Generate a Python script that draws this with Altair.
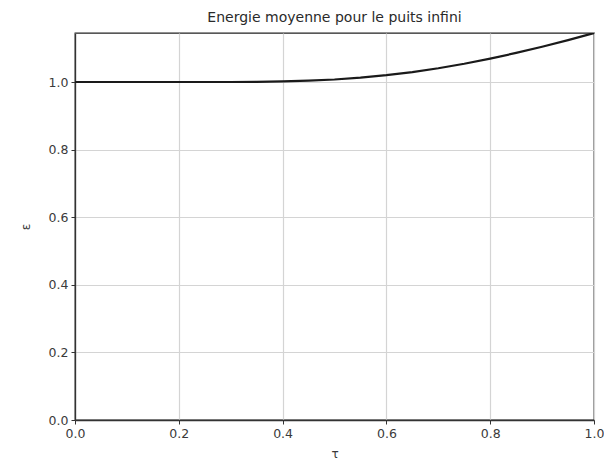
import altair as alt
import pandas as pd

# Values
tau = [0.0, 0.05, 0.10, 0.15, 0.20, 0.25, 0.30, 0.35, 0.40, 0.45, 0.50,
       0.55, 0.60, 0.65, 0.70, 0.75, 0.80, 0.85, 0.90, 0.95, 1.00]
eps = [1.000, 1.000, 1.000, 1.000, 1.000, 1.000, 1.000, 1.0005, 1.0017, 1.0038, 1.0074,
       1.0128, 1.0201, 1.0293, 1.0407, 1.0540, 1.0692, 1.0860, 1.1044, 1.1241, 1.1450]

x_ticks = [0.0, 0.2, 0.4, 0.6, 0.8, 1.0]
y_ticks = [0.0, 0.2, 0.4, 0.6, 0.8, 1.0]

title_text = "Energie moyenne pour le puits infini"

df = pd.DataFrame({"tau": tau, "eps": eps})

font = "DejaVu Sans"

chart = alt.Chart(df).mark_line(color="#1a1a1a", strokeWidth=2.2, clip=True).encode(
    x=alt.X("tau:Q", title="τ",
            scale=alt.Scale(domain=[0, 1], nice=False, zero=False),
            axis=alt.Axis(values=x_ticks, format=".1f", grid=True, tickSize=4,
                          labelPadding=3, titlePadding=9, labelFlush=False)),
    y=alt.Y("eps:Q", title="ε",
            scale=alt.Scale(domain=[0, 1.145], nice=False),
            axis=alt.Axis(values=y_ticks, format=".1f", grid=True, tickSize=4,
                          labelPadding=3, titlePadding=16, labelFlush=False)),
).properties(
    width=519,
    height=387,
    title=alt.TitleParams(title_text, fontSize=14, font=font, fontWeight="normal",
                          color="#2a2a2a", offset=8, anchor="middle"),
    padding={"left": 67, "top": 25, "right": 10, "bottom": 50},
    autosize=alt.AutoSizeParams(type="none"),
).configure_view(
    stroke="#222222", strokeWidth=1.3
).configure_axis(
    labelFont=font, titleFont=font, labelFontSize=12.5, titleFontSize=12,
    labelColor="#3a3a3a", titleColor="#3a3a3a", titleFontWeight="normal",
    domainColor="#333333", tickColor="#333333", gridColor="#d4d4d4",
    gridWidth=1.2, domainWidth=1.3
)

chart.save("out.html", embed_options={"renderer": "svg", "actions": False})
